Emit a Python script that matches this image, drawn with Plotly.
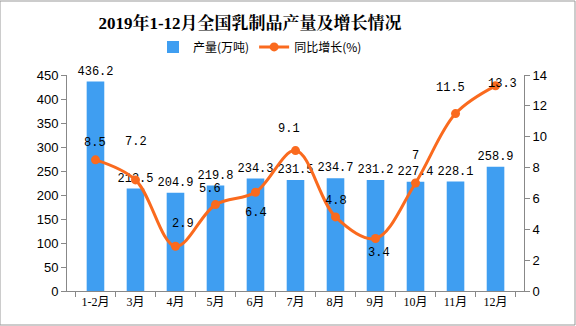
import plotly.graph_objects as go

categories = ["1-2月", "3月", "4月", "5月", "6月", "7月", "8月", "9月", "10月", "11月", "12月"]
output_values = [436.2, 213.5, 204.9, 219.8, 234.3, 231.5, 234.7, 231.2, 227.4, 228.1, 258.9]
growth_values = [8.5, 7.2, 2.9, 5.6, 6.4, 9.1, 4.8, 3.4, 7, 11.5, 13.3]
# label offsets in pixels (style only)
growth_label_dx = [0, 1, 8, -5, 0, -7, 0, 3, 0, -5, 7]
growth_label_dy = [17, 38, 22, 16, -21, 22, 16, -14, 27, 26, 2]

bar_color = "#3f9ef1"
line_color = "#fa6a1e"
label_font = dict(family="Liberation Mono, DejaVu Sans Mono, Noto Sans CJK SC", size=12, color="#000")

fig = go.Figure()
fig.add_trace(go.Bar(
    x=categories, y=output_values, name="产量(万吨)",
    marker=dict(color=bar_color, line=dict(width=0)),
    text=[f"{v:.1f}" for v in output_values], textposition="outside",
    textfont=label_font, cliponaxis=False, constraintext="none", yaxis="y",
))
fig.add_trace(go.Scatter(
    x=categories, y=growth_values, name="同比增长(%)", yaxis="y2",
    mode="lines+markers",
    line=dict(color=line_color, width=3, shape="spline", smoothing=1.0),
    marker=dict(color=line_color, size=9),
    cliponaxis=False,
))

for c, v, dx, dy in zip(categories, growth_values, growth_label_dx, growth_label_dy):
    fig.add_annotation(x=c, y=v, xref="x", yref="y2", text=f"{v:g}", showarrow=False,
                       xshift=dx, yshift=dy, font=label_font)

axis_common = dict(showgrid=False, zeroline=False, showline=True, linecolor="#888",
                   linewidth=1, ticks="outside", tickcolor="#888", ticklen=5,
                   tickfont=dict(family="Liberation Sans, Arial", size=13, color="#000"))

fig.update_layout(
    width=576, height=326,
    margin=dict(l=67, r=52, t=75, b=35),
    paper_bgcolor="white", plot_bgcolor="white",
    bargap=0.56,
    title=dict(text="<b>2019年1-12月全国乳制品产量及增长情况</b>", xref="container",
               x=250/576, xanchor="center", y=0.93, yanchor="middle",
               font=dict(family="Liberation Serif, Noto Serif CJK SC, Noto Sans CJK SC", size=17, color="#000")),
    legend=dict(orientation="h", x=(260-67)/457, xanchor="center", y=1.13, yanchor="middle",
                font=dict(family="Noto Sans CJK SC", size=12, color="#000"),
                itemwidth=30, bgcolor="rgba(0,0,0,0)"),
    xaxis=dict(**{**axis_common, "tickfont": dict(family="Liberation Serif, Noto Sans CJK SC", size=12, color="#000")},
               tickson="boundaries"),
    yaxis=dict(**axis_common, range=[0, 450], dtick=50),
    yaxis2=dict(**axis_common, range=[0, 14], dtick=2, overlaying="y", side="right"),
    showlegend=True,
)

# outer border of the image
fig.add_shape(type="rect", xref="paper", yref="paper",
              x0=-67/457, x1=1 + 51/457, y0=-34/216, y1=1 + 74/216,
              line=dict(color="#999", width=1), fillcolor="rgba(0,0,0,0)")

fig.write_html("out.html")
